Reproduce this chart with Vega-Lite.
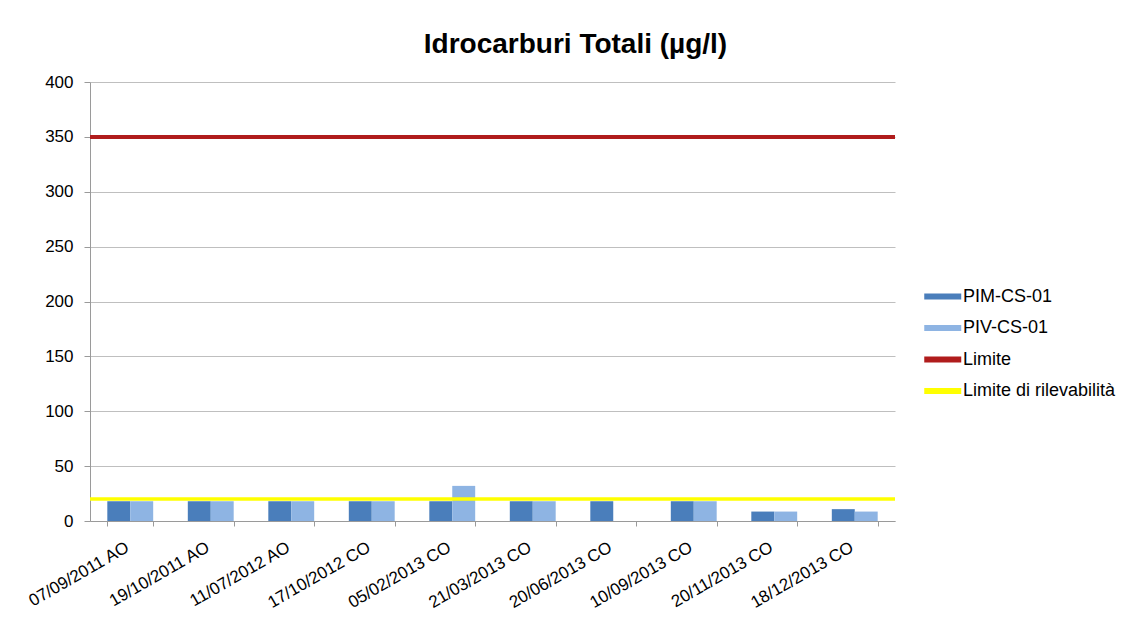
{
  "$schema": "https://vega.github.io/schema/vega-lite/v6.json",
  "autosize": "none",
  "width": 805,
  "height": 439,
  "padding": {"left": 90, "top": 82, "right": 235, "bottom": 98},
  "background": "white",
  "title": {
    "text": "Idrocarburi Totali (µg/l)",
    "font": "Liberation Sans",
    "fontSize": 28,
    "fontWeight": "bold",
    "color": "#000000",
    "anchor": "middle",
    "dx": 83,
    "offset": 14
  },
  "config": {
    "view": {"stroke": null},
    "font": "Liberation Sans"
  },
  "datasets": {
    "bars": [
      {"data": "07/09/2011 AO", "serie": "PIM-CS-01", "valore": 18},
      {"data": "07/09/2011 AO", "serie": "PIV-CS-01", "valore": 18},
      {"data": "19/10/2011 AO", "serie": "PIM-CS-01", "valore": 18},
      {"data": "19/10/2011 AO", "serie": "PIV-CS-01", "valore": 18},
      {"data": "11/07/2012 AO", "serie": "PIM-CS-01", "valore": 18},
      {"data": "11/07/2012 AO", "serie": "PIV-CS-01", "valore": 18},
      {"data": "17/10/2012 CO", "serie": "PIM-CS-01", "valore": 18},
      {"data": "17/10/2012 CO", "serie": "PIV-CS-01", "valore": 18},
      {"data": "05/02/2013 CO", "serie": "PIM-CS-01", "valore": 18},
      {"data": "05/02/2013 CO", "serie": "PIV-CS-01", "valore": 32},
      {"data": "21/03/2013 CO", "serie": "PIM-CS-01", "valore": 18},
      {"data": "21/03/2013 CO", "serie": "PIV-CS-01", "valore": 18},
      {"data": "20/06/2013 CO", "serie": "PIM-CS-01", "valore": 18},
      {"data": "10/09/2013 CO", "serie": "PIM-CS-01", "valore": 18},
      {"data": "10/09/2013 CO", "serie": "PIV-CS-01", "valore": 18},
      {"data": "20/11/2013 CO", "serie": "PIM-CS-01", "valore": 8.6},
      {"data": "20/11/2013 CO", "serie": "PIV-CS-01", "valore": 8.6},
      {"data": "18/12/2013 CO", "serie": "PIM-CS-01", "valore": 10.8},
      {"data": "18/12/2013 CO", "serie": "PIV-CS-01", "valore": 8.6}
    ],
    "limits": [
      {"serie": "Limite", "valore": 350, "spessore": 4},
      {"serie": "Limite di rilevabilità", "valore": 20, "spessore": 3.5}
    ]
  },
  "layer": [
    {
      "data": {"name": "bars"},
      "mark": {"type": "bar"},
      "encoding": {
        "x": {
          "field": "data",
          "type": "nominal",
          "sort": null,
          "scale": {"paddingInner": 0.43, "paddingOuter": 0.215},
          "axis": {
            "title": null,
            "labelAngle": -30,
            "labelFontSize": 17,
            "labelColor": "#000000",
            "labelPadding": 13,
            "labelOffset": -7,
            "tickBand": "extent",
            "tickSize": 5,
            "tickColor": "#9a9a9a",
            "domainColor": "#9a9a9a",
            "grid": false
          }
        },
        "xOffset": {
          "field": "serie",
          "type": "nominal",
          "scale": {"domain": ["PIM-CS-01", "PIV-CS-01"], "paddingInner": 0, "paddingOuter": 0}
        },
        "y": {
          "field": "valore",
          "type": "quantitative",
          "scale": {"domain": [0, 400], "nice": false},
          "axis": {
            "title": null,
            "values": [0, 50, 100, 150, 200, 250, 300, 350, 400],
            "labelFontSize": 17,
            "labelColor": "#000000",
            "labelPadding": 11,
            "tickSize": 6,
            "tickColor": "#9a9a9a",
            "domainColor": "#9a9a9a",
            "gridColor": "#bfbfbf",
            "grid": true
          }
        },
        "color": {
          "field": "serie",
          "type": "nominal",
          "scale": {
            "domain": ["PIM-CS-01", "PIV-CS-01", "Limite", "Limite di rilevabilità"],
            "range": ["#4a7ebb", "#8eb4e3", "#b01c1c", "#ffff00"]
          },
          "legend": {
            "title": null,
            "orient": "none",
            "legendX": 831,
            "legendY": 202,
            "symbolType": "M-1,0H3",
            "symbolSize": 342,
            "symbolStrokeWidth": 6,
            "labelFontSize": 18,
            "labelColor": "#000000",
            "labelOffset": 17,
            "rowPadding": 6.5,
            "encode": {
              "symbols": {
                "update": {
                  "stroke": {"scale": "color", "field": "value"},
                  "fill": {"value": "transparent"}
                }
              }
            }
          }
        }
      }
    },
    {
      "data": {"name": "limits"},
      "mark": {"type": "rule"},
      "encoding": {
        "y": {"field": "valore", "type": "quantitative"},
        "color": {"field": "serie", "type": "nominal"},
        "strokeWidth": {"field": "spessore", "type": "quantitative", "scale": null, "legend": null}
      }
    }
  ]
}
